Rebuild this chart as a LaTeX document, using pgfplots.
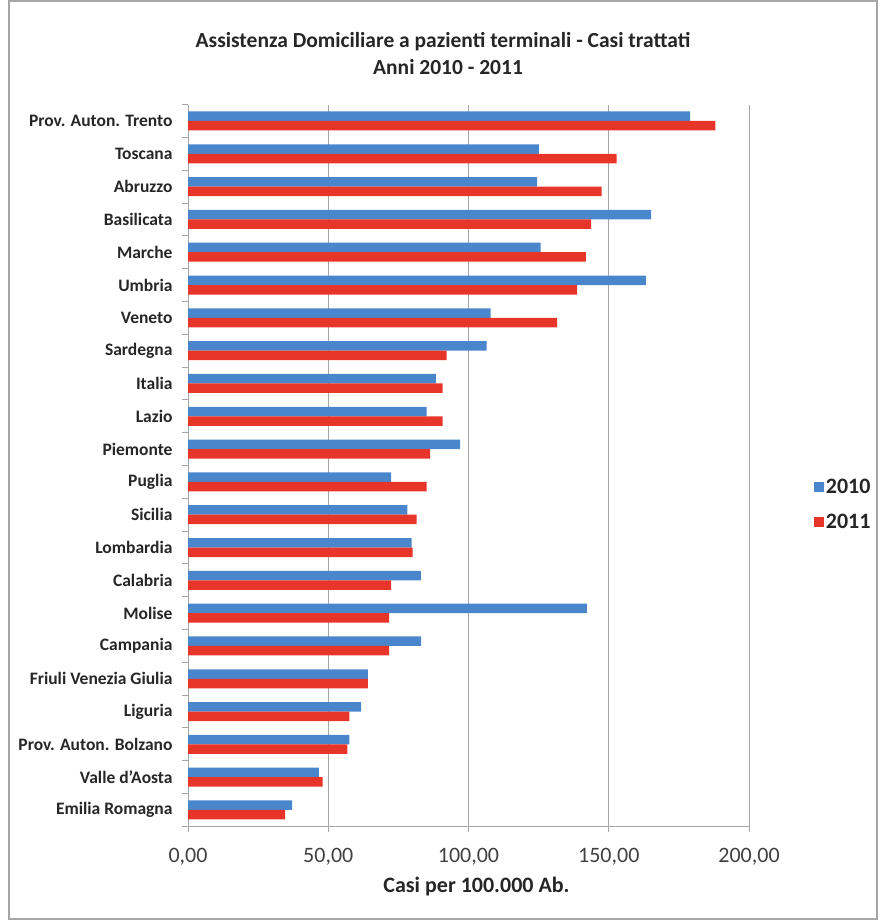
\documentclass[border=0pt]{standalone}
\usepackage{fontspec}
\setmainfont{Carlito}
\usepackage{pgfplots}
\usepackage{pgfplotstable}
\pgfplotsset{compat=1.18}
\definecolor{cblue}{HTML}{4A86CC}
\definecolor{cred}{HTML}{E8352A}
\definecolor{cgrid}{HTML}{A6A6A6}
\definecolor{ctext}{HTML}{262626}
\definecolor{ctick}{HTML}{404040}
\pgfplotstableread{
idx v2010 v2011
21 179.0 188.0
20 125.1 152.8
19 124.5 147.5
18 165.1 143.7
17 125.7 141.8
16 163.2 138.7
15 107.9 131.6
14 106.5 92.2
13 88.4 90.8
12 85.1 90.8
11 97.0 86.3
10 72.4 85.1
9 78.2 81.5
8 79.7 80.1
7 83.0 72.4
6 142.2 71.7
5 83.1 71.7
4 64.1 64.1
3 61.7 57.5
2 57.5 56.8
1 46.7 48.0
0 37.1 34.6
}\datatable
\begin{document}
\begin{tikzpicture}[x=1pt,y=1pt]
\path[use as bounding box] (0,0) rectangle (881,920);
\draw[cgrid, line width=1.5pt] (9,1) rectangle (877,919);
\node[font=\bfseries\fontsize{21.5}{25}\selectfont, text=ctext] at (443,878) {Assistenza Domiciliare a pazienti terminali - Casi trattati};
\node[font=\bfseries\fontsize{21.5}{25}\selectfont, text=ctext] at (448,853) {Anni 2010 - 2011};
\begin{axis}[
  at={(188pt,93.6pt)}, anchor=south west,
  scale only axis, width=561pt, height=721.8pt,
  xmin=0, xmax=200, ymin=-0.5, ymax=21.5,
  xbar, bar width=9.5pt,
  axis x line=bottom, axis y line=left,
  axis line style={-, cgrid, line width=1pt},
  xtick={0,50,100,150,200},
  xticklabels={{0,00},{50,00},{100,00},{150,00},{200,00}},
  x tick label style={font=\fontsize{22}{26}\selectfont, text=ctick, yshift=-12pt},
  tick align=outside,
  major tick length=6pt,
  minor tick length=6pt,
  every major x tick/.append style={cgrid, line width=1pt},
  every major y tick/.append style={draw=none},
  every minor y tick/.append style={cgrid, line width=1pt},
  ytick={0,...,21},
  minor ytick={-0.5,0.5,...,21.5},
  yticklabels={Emilia Romagna,Valle d'Aosta,Prov. Auton. Bolzano,Liguria,Friuli Venezia Giulia,Campania,Molise,Calabria,Lombardia,Sicilia,Puglia,Piemonte,Lazio,Italia,Sardegna,Veneto,Umbria,Marche,Basilicata,Abruzzo,Toscana,Prov. Auton. Trento},
  y tick label style={font=\bfseries\fontsize{17.5}{20}\selectfont, text=ctext, xshift=-6pt},
  xmajorgrids, major x grid style={cgrid, line width=1pt},
  xlabel={Casi per 100.000 Ab.},
  xlabel style={font=\bfseries\fontsize{22}{26}\selectfont, text=ctext, xshift=8pt, yshift=-5pt},
  legend style={draw=none, fill=none, at={(1.11,0.446)}, anchor=west,
    font=\bfseries\fontsize{22}{26}\selectfont, text=ctext, row sep=15pt},
  legend image code/.code={\fill[#1,draw=none] (0pt,-5pt) rectangle (10pt,5pt);},
  legend cell align=left,
]
\addplot[fill=cblue, draw=none, bar shift=4.75pt] table[x=v2010, y=idx] {\datatable};
\addplot[fill=cred, draw=none, bar shift=-4.75pt] table[x=v2011, y=idx] {\datatable};
\legend{2010,2011}
\end{axis}
\end{tikzpicture}
\end{document}
